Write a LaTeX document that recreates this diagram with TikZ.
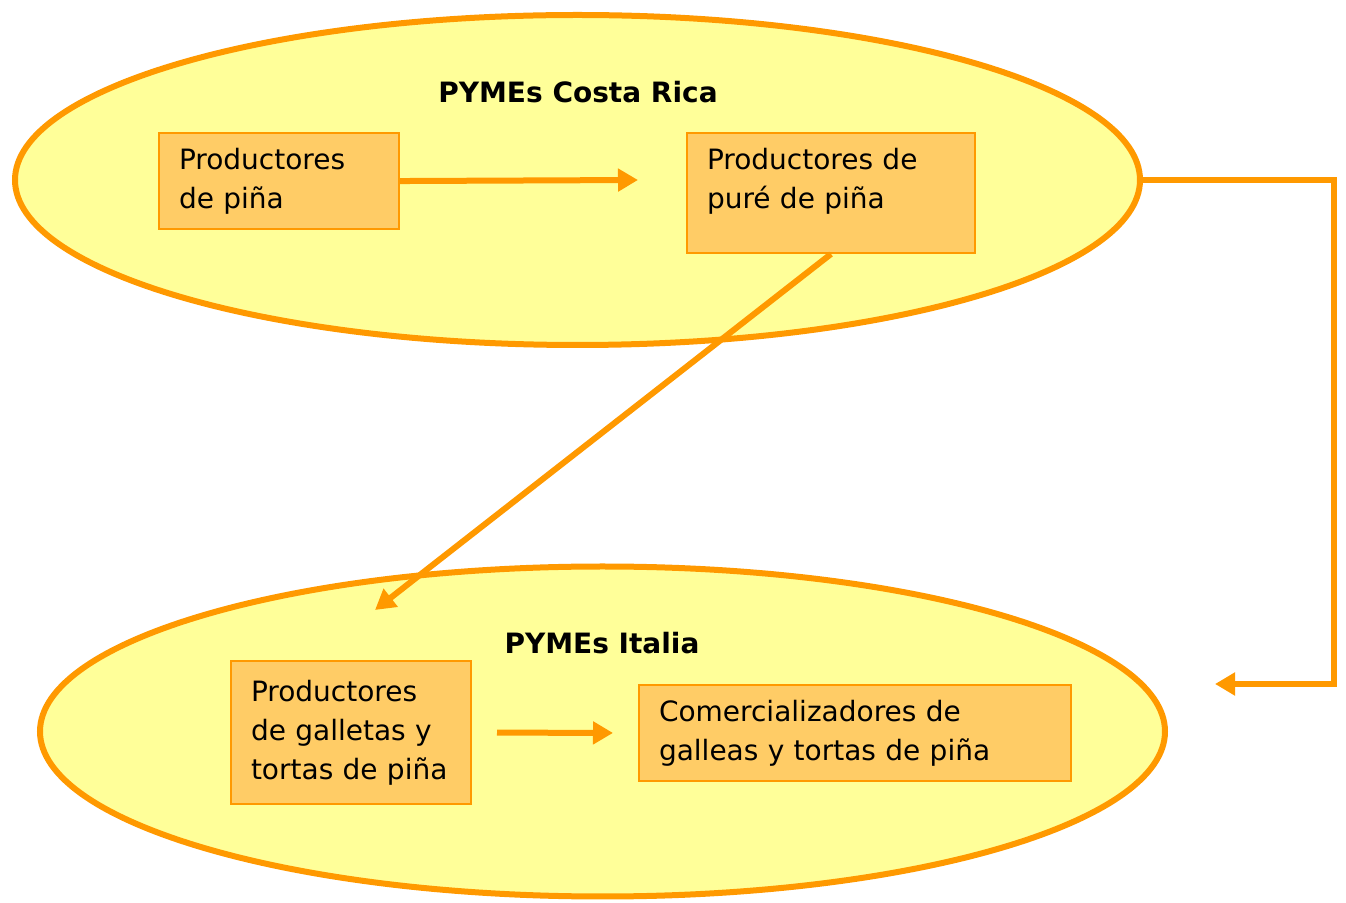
\documentclass[tikz,border=0pt]{standalone}
\usepackage{fontspec}
\setmainfont{DejaVu Sans}
\usepackage{xcolor}
\usetikzlibrary{arrows.meta,shapes.geometric}
\definecolor{naranja}{HTML}{FF9900}
\definecolor{amarillo}{HTML}{FFFF99}
\definecolor{relleno}{HTML}{FFCC66}

\begin{document}
\begin{tikzpicture}[x=0.5pt,y=-0.5pt,
    font=\fontsize{14}{19.5}\selectfont,
    zona/.style={ellipse,draw=naranja,line width=3pt,fill=amarillo,inner sep=0pt,
        minimum width=562.5pt,minimum height=165pt},
    caja/.style={draw=naranja,line width=1pt,fill=relleno,anchor=north west,
        align=left,inner xsep=10pt,inner ysep=7.5pt},
    titulo/.style={font=\fontsize{14}{19.5}\selectfont\bfseries},
    flecha/.style={draw=naranja,line width=3pt,-{Triangle[length=10pt,width=11pt]}}]
    \useasboundingbox (0,0) rectangle (1346,903);
    % zones
    \node [zona] (costa) at (577.5,180) {};
    \node [zona] (italia) at (602.5,731.5) {};
    \node [titulo] (costatitulo) at (578,92) {PYMEs Costa Rica};
    \node [titulo] (italiatitulo) at (602,643) {PYMEs Italia};
    % boxes
    \node [caja,text width=100pt,minimum height=48pt] (pina) at (158,132) {Productores\\de piña};
    \node [caja,text width=124pt,minimum height=60pt] (pure) at (686,132) {Productores de\\puré de piña\\[-5pt]\mbox{}};
    \node [caja,text width=100pt,minimum height=71.5pt] (galletas) at (230,660) {Productores\\de galletas y\\tortas de piña};
    \node [caja,text width=196pt,minimum height=48pt] (comercio) at (638,684) {Comercializadores de\\galleas y tortas de piña};
    % free ends
    \coordinate (fin1) at (638,180);
    \coordinate (fin2) at (375,610);
    \coordinate (entrada) at (1215,684);
    % arrows
    \draw [flecha] (pina.east) -- (fin1);
    \draw [flecha] (pure.south) -- (fin2);
    \draw [flecha,shorten <=12.5pt,shorten >=12.5pt] (galletas.east) -- (comercio.west);
    \draw [flecha] (costa.east) -| ([xshift=59.5pt]entrada) -- (entrada);
\end{tikzpicture}
\end{document}
